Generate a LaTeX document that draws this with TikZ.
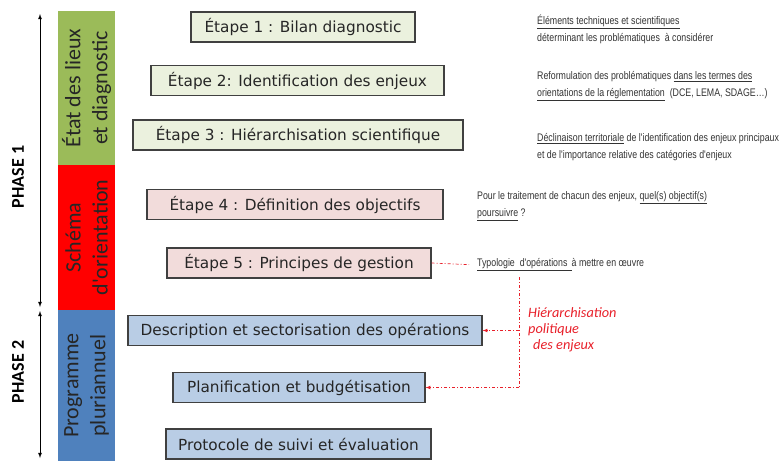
\documentclass[tikz,border=0pt]{standalone}
\usepackage{fontspec}
\setmainfont{DejaVu Sans}
\newfontfamily\notefont[FakeStretch=0.8]{Liberation Sans}
\newfontfamily\barfont{Carlito}
\usetikzlibrary{positioning}
\usetikzlibrary{arrows}

\definecolor{barvert}{HTML}{9BBB59}
\definecolor{barrouge}{HTML}{FF0000}
\definecolor{barbleu}{HTML}{4F81BD}
\definecolor{fondvert}{HTML}{EBF1DE}
\definecolor{fondrose}{HTML}{F2DCDB}
\definecolor{fondbleu}{HTML}{B9CDE5}
\definecolor{bord}{HTML}{404040}
\definecolor{note}{HTML}{333333}
\definecolor{lienrouge}{HTML}{E8202A}

\tikzset{
etape/.style={draw=bord, line width=1.1pt, minimum height=30pt, inner sep=0pt,
  text=black!85, font=\fontsize{15.3}{18}\selectfont},
etapevert/.style={etape, fill=fondvert},
etaperose/.style={etape, fill=fondrose},
etapebleu/.style={etape, fill=fondbleu},
barre/.style={rotate=90, minimum height=57pt, inner sep=0pt, align=center,
  text=black!85, font=\barfont\fontsize{22}{27}\selectfont},
phase/.style={rotate=90, font=\barfont\bfseries\fontsize{18}{20}\selectfont},
note/.style={anchor=west, align=left, inner sep=0pt, text=note,
  font=\notefont\fontsize{11}{17}\selectfont},
lien/.style={draw=lienrouge, line width=0.7pt, dash pattern=on 3pt off 2pt on 1pt off 2pt}
}

\begin{document}
\begin{tikzpicture}[x=1pt,y=-1pt]
\useasboundingbox (0,0) rectangle (779,461);
\node[barre, fill=barvert, minimum width=154pt] (etat) at (86.5,88) {État des lieux\\et diagnostic};
\node[barre, fill=barrouge, minimum width=145pt] (schema) at (86.5,237.5) {Schéma\\d'orientation};
\node[barre, fill=barbleu, minimum width=151pt] (prog) at (86.5,385.5) {Programme\\pluriannuel};

\coordinate (p1h) at (40,14);
\coordinate (p1b) at (40,307);
\coordinate (p2h) at (40,311);
\coordinate (p2b) at (40,458);
\draw[latex-latex, line width=0.8pt] (p1h) -- (p1b);
\draw[latex-latex, line width=0.8pt] (p2h) -- (p2b);
\node[phase] (phase1) at (18,177) {PHASE 1};
\node[phase] (phase2) at (18,372) {PHASE 2};

\node[etapevert, minimum width=224pt] (e1) at (303,27) {Étape 1 : Bilan diagnostic};
\node[etapevert, minimum width=293pt] (e2) at (297.5,80.5) {Étape 2: Identification des enjeux};
\node[etapevert, minimum width=330pt] (e3) at (298,135) {Étape 3 : Hiérarchisation scientifique};
\node[etaperose, minimum width=296pt] (e4) at (295,204.5) {Étape 4 : Définition des objectifs};
\node[etaperose, minimum width=264pt] (e5) at (299,263) {Étape 5 : Principes de gestion};
\node[etapebleu, minimum width=354pt] (desc) at (305,330.5) {Description et sectorisation des opérations};
\node[etapebleu, minimum width=252pt] (plan) at (299,387.5) {Planification et budgétisation};
\node[etapebleu, minimum width=265pt] (proto) at (298.5,444) {Protocole de suivi et évaluation};

\node[note] (n1) at (537,29) {\underline{Éléments techniques et scientifiques}\\déterminant les problématiques \ à considérer};
\node[note] (n2) at (537,86.5) {Reformulation des problématiques \underline{dans les termes des}\\\underline{orientations de la réglementation} \ (DCE, LEMA, SDAGE\dots)};
\node[note] (n3) at (537,147.5) {\underline{Déclinaison territoriale} de l'identification des enjeux principaux\\et de l'importance relative des catégories d'enjeux};
\node[note] (n4) at (477,206.5) {Pour le traitement de chacun des enjeux, \underline{quel(s) objectif(s)}\\\underline{poursuivre} ?};
\node[note] (typo) at (477,265) {\underline{Typologie \ d'opérations \,}à mettre en œuvre};

\node[anchor=north west, align=left, inner sep=0pt, text=lienrouge,
  font=\barfont\itshape\fontsize{14.3}{16}\selectfont] (hier) at (528,307)
  {Hiérarchisation\\politique\\\hspace{5pt}des enjeux};

\coordinate (haut) at (519,277);
\coordinate (bas) at (519,387.5);
\coordinate (vdesc) at (519,330.5);
\draw[lien, shorten >=8pt] (e5.east) -- (typo.west);
\draw[lien] (haut) -- (bas);
\draw[lien, -latex] (vdesc) -- (desc.east);
\draw[lien, -latex] (bas) -- (plan.east);
\end{tikzpicture}
\end{document}
